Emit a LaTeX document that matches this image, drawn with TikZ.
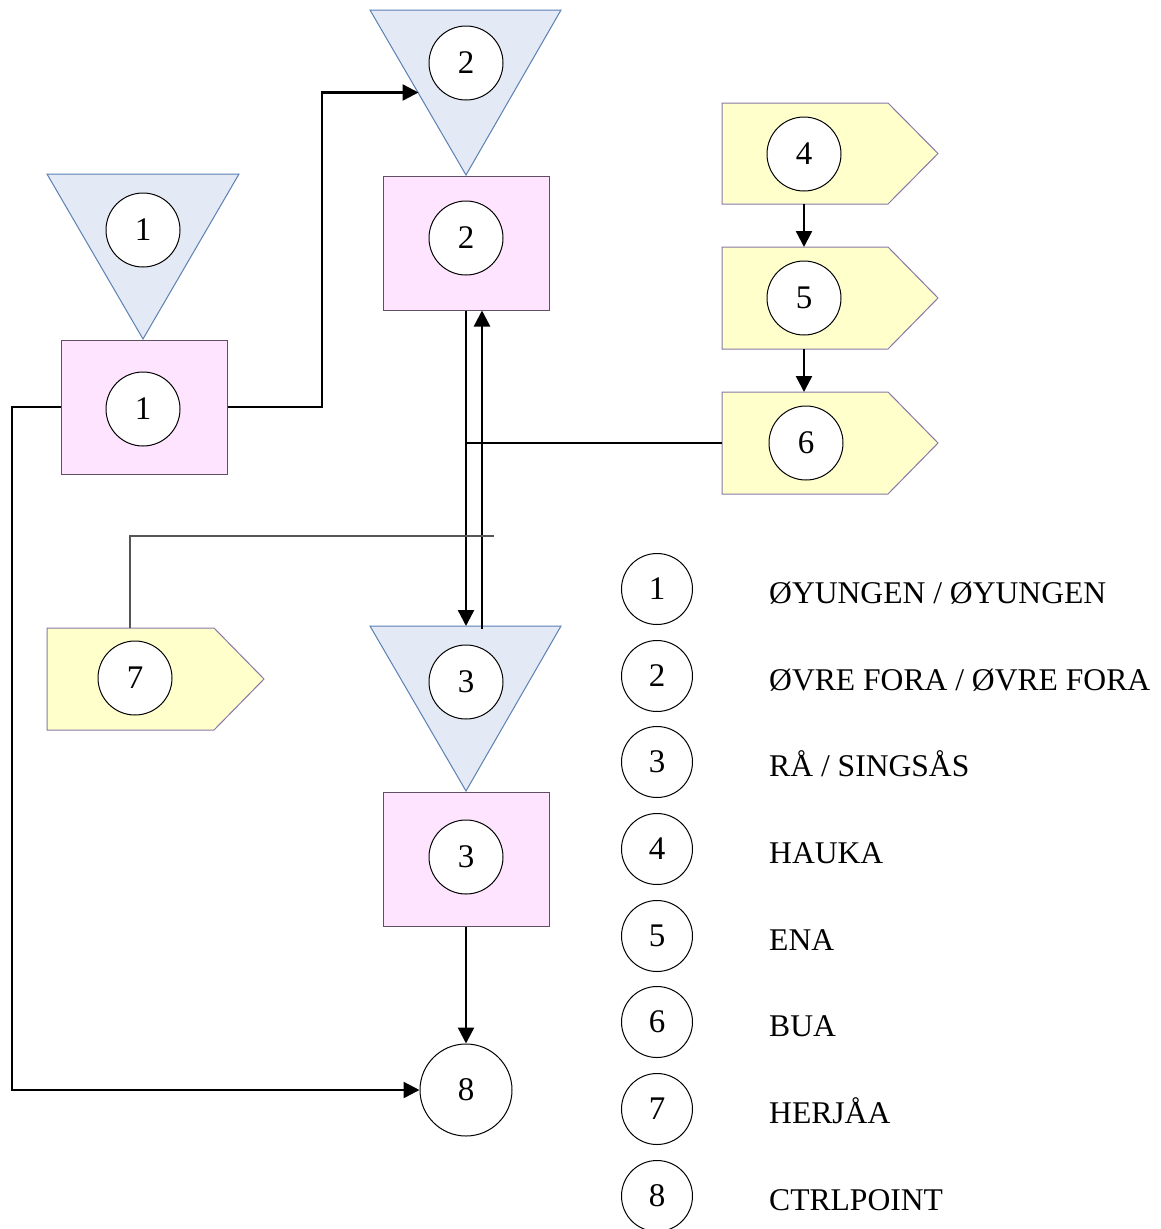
\documentclass[tikz,border=0pt]{standalone}
\usepackage{fontspec}
\setmainfont{Liberation Serif}
\usetikzlibrary{arrows.meta,calc}
\definecolor{trifill}{HTML}{E4EAF5}
\definecolor{tridraw}{HTML}{5B80B2}
\definecolor{boxfill}{HTML}{FFE4FF}
\definecolor{boxdraw}{HTML}{5E5060}
\definecolor{penfill}{HTML}{FFFFCC}
\definecolor{pendraw}{HTML}{8877A8}
\definecolor{thingray}{HTML}{555555}
\begin{document}
\begin{tikzpicture}[x=1pt,y=-1pt,
  numc/.style={circle,draw=black,line width=1pt,fill=white,minimum size=74pt,inner sep=0pt,font=\fontsize{33}{38}\selectfont},
  legc/.style={numc,minimum size=71pt},
  legt/.style={anchor=base west,inner sep=0pt,font=\fontsize{31.6}{36}\selectfont},
  boxst/.style={rectangle,draw=boxdraw,fill=boxfill,line width=1pt,minimum width=166pt,minimum height=134pt,inner sep=0pt},
  trist/.style={draw=tridraw,fill=trifill,line width=1pt},
  penst/.style={draw=pendraw,fill=penfill,line width=1pt},
  conn/.style={line width=2.4pt,black},
  arr/.style={conn,-{Triangle[length=16pt,width=16pt]}},
  thinln/.style={line width=1.2pt,thingray}]
\fill[white] (0,0) rectangle (1161,1229);
\useasboundingbox (0,0) rectangle (1161,1229);

% triangles
\draw[trist] (47,174) -- (239,174) -- (143,339) -- cycle;
\draw[trist] (370,10) -- (561,10) -- (466,175) -- cycle;
\draw[trist] (370,626) -- (561,626) -- (466,791) -- cycle;
\coordinate (t2m) at (418.5,92.5);
\coordinate (t3n) at (466,626);

% boxes
\node[boxst] (b1) at (144,407) {};
\node[boxst] (b2) at (466,243) {};
\node[boxst] (b3) at (466,859.5) {};

% pentagons
\draw[penst] (722,103) -- (888,103) -- (938,153.5) -- (888,204) -- (722,204) -- cycle;
\draw[penst] (722,247) -- (888,247) -- (938,298) -- (888,349) -- (722,349) -- cycle;
\draw[penst] (722,392) -- (888,392) -- (938,443) -- (888,494) -- (722,494) -- cycle;
\draw[penst] (47,628) -- (214,628) -- (264,679) -- (214,730) -- (47,730) -- cycle;
\coordinate (p4s) at (804,204);
\coordinate (p5n) at (804,247);
\coordinate (p5s) at (804,349);
\coordinate (p6n) at (804,392);
\coordinate (p6w) at (722,443);
\coordinate (p7n) at (130,628);

% numbered circles
\node[numc] (c1a) at (143,230) {1};
\node[numc] (c1b) at (143,409) {1};
\node[numc] (c2a) at (466,63) {2};
\node[numc] (c2b) at (466,238) {2};
\node[numc] (c3a) at (466,682) {3};
\node[numc] (c3b) at (466,857) {3};
\node[numc] (c4) at (804,154) {4};
\node[numc] (c5) at (804,298) {5};
\node[numc] (c6) at (806,443) {6};
\node[numc] (c7) at (135,678) {7};
\node[numc,minimum size=92pt] (c8) at (466,1090) {8};

% connectors
\coordinate (jn) at (466,443);
\coordinate (l7e) at (494,536);
\draw[arr] (b1.east) -- (322,407) |- (t2m);
\draw[arr] (b1.west) -- (12,407) |- (c8.west);
\draw[arr] (b2.south) -- (t3n);
\draw[arr] ([xshift=16pt,yshift=-3pt]t3n) -- ([xshift=16pt]b2.south);
\draw[conn] (p6w) -- (jn);
\draw[thinln] (p7n) |- (l7e);
\draw[arr] (p4s) -- (p5n);
\draw[arr] (p5s) -- (p6n);
\draw[arr] (b3.south) -- (c8.north);

% legend
\node[legc] (g1) at (657,589) {1};
\node[legc] (g2) at (657,676) {2};
\node[legc] (g3) at (657,762) {3};
\node[legc] (g4) at (657,849) {4};
\node[legc] (g5) at (657,936) {5};
\node[legc] (g6) at (657,1022) {6};
\node[legc] (g7) at (657,1109) {7};
\node[legc] (g8) at (657,1196) {8};
\node[legt] (h1) at (769,603) {ØYUNGEN / ØYUNGEN};
\node[legt] (h2) at (769,690) {ØVRE FORA / ØVRE FORA};
\node[legt] (h3) at (769,776) {RÅ / SINGSÅS};
\node[legt] (h4) at (769,863) {HAUKA};
\node[legt] (h5) at (769,950) {ENA};
\node[legt] (h6) at (769,1036) {BUA};
\node[legt] (h7) at (769,1123) {HERJÅA};
\node[legt] (h8) at (769,1210) {CTRLPOINT};
\end{tikzpicture}
\end{document}
